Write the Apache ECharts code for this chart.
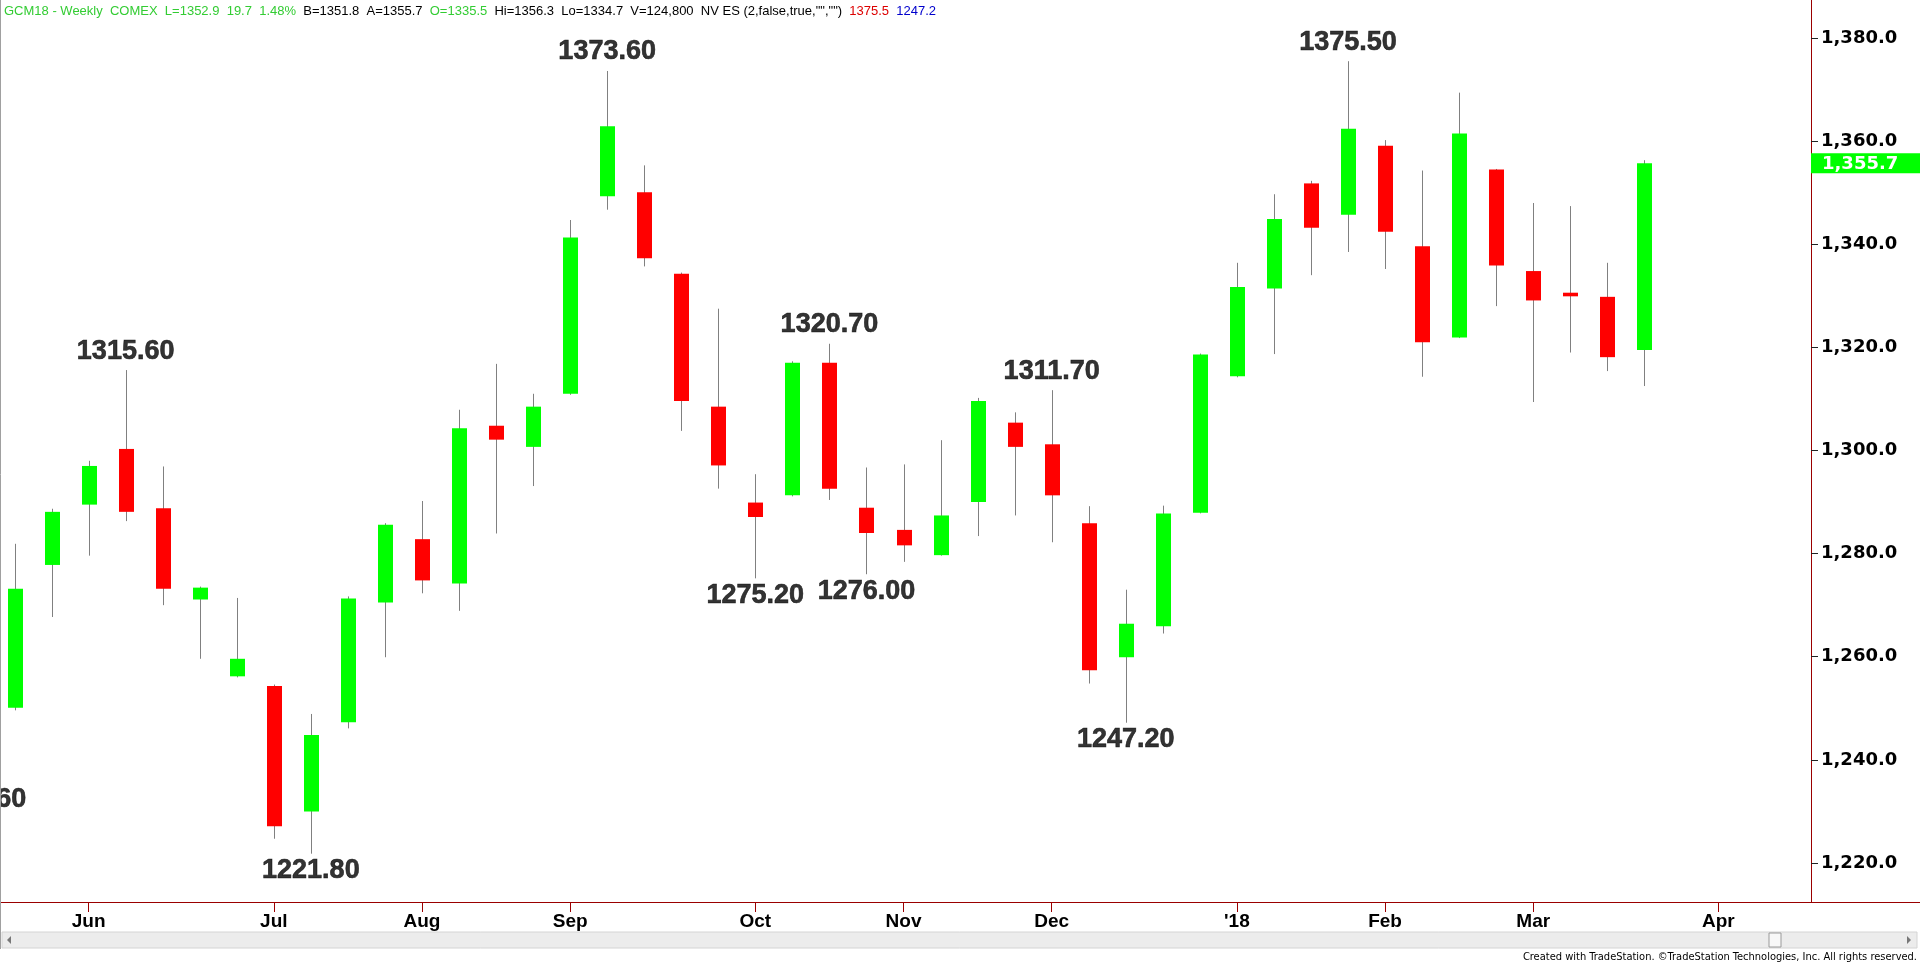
<!DOCTYPE html>
<html><head><meta charset="utf-8">
<script src="https://cdn.jsdelivr.net/npm/echarts@6/dist/echarts.min.js"></script>
<style>html,body{margin:0;padding:0;background:#fff;overflow:hidden}#c{width:1920px;height:964px}</style>
</head><body><div id="c"></div>
<script>
// ---- data (weekly bars, week-ending dates) ----
const weeks = ['2017-05-19','2017-05-26','2017-06-02','2017-06-09','2017-06-16','2017-06-23','2017-06-30',
 '2017-07-07','2017-07-14','2017-07-21','2017-07-28','2017-08-04','2017-08-11','2017-08-18','2017-08-25',
 '2017-09-01','2017-09-08','2017-09-15','2017-09-22','2017-09-29','2017-10-06','2017-10-13','2017-10-20','2017-10-27',
 '2017-11-03','2017-11-10','2017-11-17','2017-11-24','2017-12-01','2017-12-08','2017-12-15','2017-12-22','2017-12-29',
 '2018-01-05','2018-01-12','2018-01-19','2018-01-26','2018-02-02','2018-02-09','2018-02-16','2018-02-23',
 '2018-03-02','2018-03-09','2018-03-16','2018-03-23','2018-03-30','2018-04-06','2018-04-13','2018-04-20'];
const xTickLabels = ['','','Jun','','','','','Jul','','','','Aug','','','','Sep','','','','','Oct','','','',
 'Nov','','','','Dec','','','','','\'18','','','','Feb','','','','Mar','','','','','Apr','',''];
const opens  = [1250.1,1277.8,1289.5,1300.3,1288.8,1271.1,1256.2,1254.3,1230.0,1247.3,1270.5,1282.8,1274.2,1304.8,
 1300.7,1311.0,1349.3,1350.1,1334.3,1308.5,1289.9,1291.3,1317.0,1288.9,1284.6,1279.7,1290.0,1305.4,1301.2,1285.9,
 1259.9,1265.9,1287.9,1314.4,1331.4,1351.8,1345.7,1359.1,1339.6,1321.9,1354.5,1334.8,1330.6,1329.8,1319.5];
const closes = [1273.2,1288.1,1297.0,1288.1,1273.2,1273.4,1259.6,1227.1,1244.8,1271.3,1285.6,1274.8,1304.3,1302.1,
 1308.5,1341.3,1362.9,1337.3,1309.6,1297.1,1287.1,1317.0,1292.6,1284.0,1281.6,1287.4,1309.6,1300.7,1291.3,1257.4,
 1266.4,1287.8,1318.6,1331.7,1344.9,1343.2,1362.4,1342.4,1321.0,1361.5,1335.9,1329.1,1329.9,1318.1,1355.7];
const lows   = [1249.6,1267.7,1279.6,1286.3,1270.0,1259.6,1256.0,1224.7,1221.8,1246.1,1259.9,1272.3,1268.9,1283.9,
 1293.1,1310.8,1346.7,1335.7,1303.8,1292.6,1275.2,1291.1,1290.4,1276.0,1278.4,1279.6,1283.4,1287.4,1282.2,1254.8,
 1247.2,1264.5,1287.8,1314.2,1318.7,1334.0,1338.5,1335.2,1314.3,1321.8,1328.0,1309.4,1319.0,1315.4,1312.5];
const highs  = [1281.9,1288.7,1298.0,1315.6,1296.9,1273.6,1271.4,1254.6,1248.9,1271.7,1285.9,1290.2,1307.9,1316.8,
 1311.0,1344.7,1373.6,1355.3,1334.5,1327.5,1295.4,1317.3,1320.7,1296.7,1297.3,1302.0,1310.2,1307.4,1311.7,1289.2,
 1273.0,1289.3,1318.8,1336.4,1349.7,1352.3,1375.5,1360.2,1354.3,1369.4,1354.6,1348.0,1347.4,1336.4,1356.3];
// swing annotations (first one belongs to the week before the visible range, so it is shifted one bar left)
const annIdx   = [0, 3, 8, 16, 20, 22, 23, 28, 30, 36];
const annShift = [-1, 0, 0, 0, 0, 0, 0, 0, 0, 0];
const annValue = [1235.60, 1315.60, 1221.80, 1373.60, 1275.20, 1320.70, 1276.00, 1311.70, 1247.20, 1375.50];
const annSide  = ['bottom','top','bottom','top','bottom','top','bottom','top','bottom','top'];
const yTicks = [1220,1240,1260,1280,1300,1320,1340,1360,1380];
// header texts
const hdrGreen1 = 'GCM18 - Weekly  COMEX  L=1352.9  19.7  1.48%  ';
const hdrBlack1 = 'B=1351.8  A=1355.7  ';
const hdrGreen2 = 'O=1335.5  ';
const hdrBlack2 = 'Hi=1356.3  Lo=1334.7  V=124,800  NV ES (2,false,true,"","")  ';
const hdrRed = '1375.5  ';
const hdrBlue = '1247.2';
const footer = 'Created with TradeStation. \u00A9TradeStation Technologies, Inc. All rights reserved.';

// ---- chart ----
const AXIS_RED = '#9a0000';
const ARIAL = '"Liberation Sans",Arial,sans-serif';
const NARROW = '"Liberation Sans Narrow","Arial Narrow","DejaVu Sans Condensed",sans-serif';
const chart = echarts.init(document.getElementById('c'));
const candleData = opens.map((o, i) => [i, o, closes[i], lows[i], highs[i]]);
const fmtY = v => v.toLocaleString('en-US', {minimumFractionDigits:1, maximumFractionDigits:1});
const tickOn = i => xTickLabels[i] !== '';
const GRID_L = -4, GRID_R = 109;
const BAND = (1920 - GRID_R - GRID_L) / weeks.length;

chart.setOption({
  animation: false,
  backgroundColor: '#ffffff',
  grid: {left: GRID_L, right: GRID_R, top: 0, bottom: 62, outerBoundsMode: 'none', containLabel: false},
  xAxis: {
    type: 'category', data: weeks, boundaryGap: true,
    axisLine: {show: false},
    axisTick: {show: true, alignWithLabel: true, interval: tickOn, length: 10, lineStyle: {color: AXIS_RED}},
    axisLabel: {interval: tickOn, formatter: (v, i) => xTickLabels[i], margin: 10, color: '#000',
      fontFamily: ARIAL, fontWeight: 'bold', fontSize: 19},
    splitLine: {show: false}
  },
  yAxis: {
    type: 'value', position: 'right', min: 1212.43, max: 1387.37,
    axisLine: {show: true, lineStyle: {color: AXIS_RED}},
    axisTick: {show: true, customValues: yTicks, length: 7, lineStyle: {color: '#222'}},
    axisLabel: {customValues: yTicks, formatter: fmtY, margin: 10, color: '#000',
      fontFamily: '"DejaVu Sans",sans-serif', fontWeight: 'bold', fontSize: 18},
    splitLine: {show: false}
  },
  series: [{
    type: 'custom',
    data: candleData,
    encode: {x: 0, y: [1, 2, 3, 4]},
    clip: false,
    renderItem: function (params, api) {
      const x = api.value(0), o = api.value(1), c = api.value(2), l = api.value(3), h = api.value(4);
      const pO = api.coord([x, o]), pC = api.coord([x, c]), pL = api.coord([x, l]), pH = api.coord([x, h]);
      const w = 15;
      const cx = Math.round(pO[0]);
      const top = Math.min(pO[1], pC[1]), bot = Math.max(pO[1], pC[1]);
      const hgt = Math.max(bot - top, 3);
      return {type: 'group', children: [
        {type: 'line', shape: {x1: cx + 0.5, y1: pH[1], x2: cx + 0.5, y2: pL[1]}, style: {stroke: '#808080', lineWidth: 1}},
        {type: 'rect', shape: {x: cx - 7, y: (top + bot) / 2 - hgt / 2, width: w, height: hgt},
          style: {fill: c >= o ? '#00ff00' : '#ff0000'}}
      ]};
    }
  }, {
    type: 'scatter',
    symbolSize: 1,
    itemStyle: {color: 'rgba(0,0,0,0)'},
    silent: true,
    data: annIdx.map((ix, k) => ({value: [ix, annValue[k]],
      label: {position: annSide[k], distance: annSide[k] === 'top' ? 5 : 3, offset: [annShift[k] * BAND, 0]}})),
    label: {show: true, formatter: p => p.value[1].toFixed(2), color: '#000', fontWeight: 'bold',
      fontFamily: ARIAL, fontSize: 27, lineHeight: 27, textBorderColor: '#000', textBorderWidth: 0.6}
  }]
});

const py = chart.convertToPixel({yAxisIndex: 0}, closes[closes.length - 1]);
const hf = '13px ' + ARIAL;
chart.setOption({graphic: [
  {type: 'line', shape: {x1: 0, y1: 902.5, x2: 1920, y2: 902.5}, style: {stroke: AXIS_RED, lineWidth: 1}, z: 10},
  {type: 'line', shape: {x1: 0.5, y1: 0, x2: 0.5, y2: 949}, style: {stroke: '#a0a0a0', lineWidth: 1}, z: 10},
  {type: 'rect', shape: {x: 1811, y: py - 10, width: 109, height: 20}, style: {fill: '#00ff00'}, z: 10},
  {type: 'text', x: 1822, y: py + 1, z: 11, style: {text: fmtY(closes[closes.length - 1]), fill: '#fff',
    font: 'bold 18px "DejaVu Sans",sans-serif', verticalAlign: 'middle'}},
  {type: 'text', x: 4, y: 11, z: 11, style: {
    text: '{g|' + hdrGreen1 + '}{k|' + hdrBlack1 + '}{g|' + hdrGreen2 + '}{k|' + hdrBlack2 + '}{r|' + hdrRed + '}{b|' + hdrBlue + '}',
    verticalAlign: 'middle', font: hf,
    rich: {g: {fill: '#33cc33', font: hf}, k: {fill: '#000', font: hf},
      r: {fill: '#dd0000', font: hf}, b: {fill: '#0000cc', font: hf}}}},
  // scrollbar
  {type: 'rect', shape: {x: 2, y: 932, width: 1915, height: 16}, style: {fill: '#ececec', stroke: '#d4d4d4', lineWidth: 1}, z: 10},
  {type: 'rect', shape: {x: 1769, y: 933, width: 12, height: 14}, style: {fill: '#f8f8f8', stroke: '#9a9a9a', lineWidth: 1}, z: 11},
  {type: 'polygon', shape: {points: [[11, 936], [7, 940], [11, 944]]}, style: {fill: '#777'}, z: 11},
  {type: 'polygon', shape: {points: [[1907, 936], [1911, 940], [1907, 944]]}, style: {fill: '#777'}, z: 11},
  {type: 'text', x: 1917, y: 957, z: 11, style: {text: footer, fill: '#000', font: '11px ' + NARROW,
    align: 'right', verticalAlign: 'middle'}}
]});
</script></body></html>
